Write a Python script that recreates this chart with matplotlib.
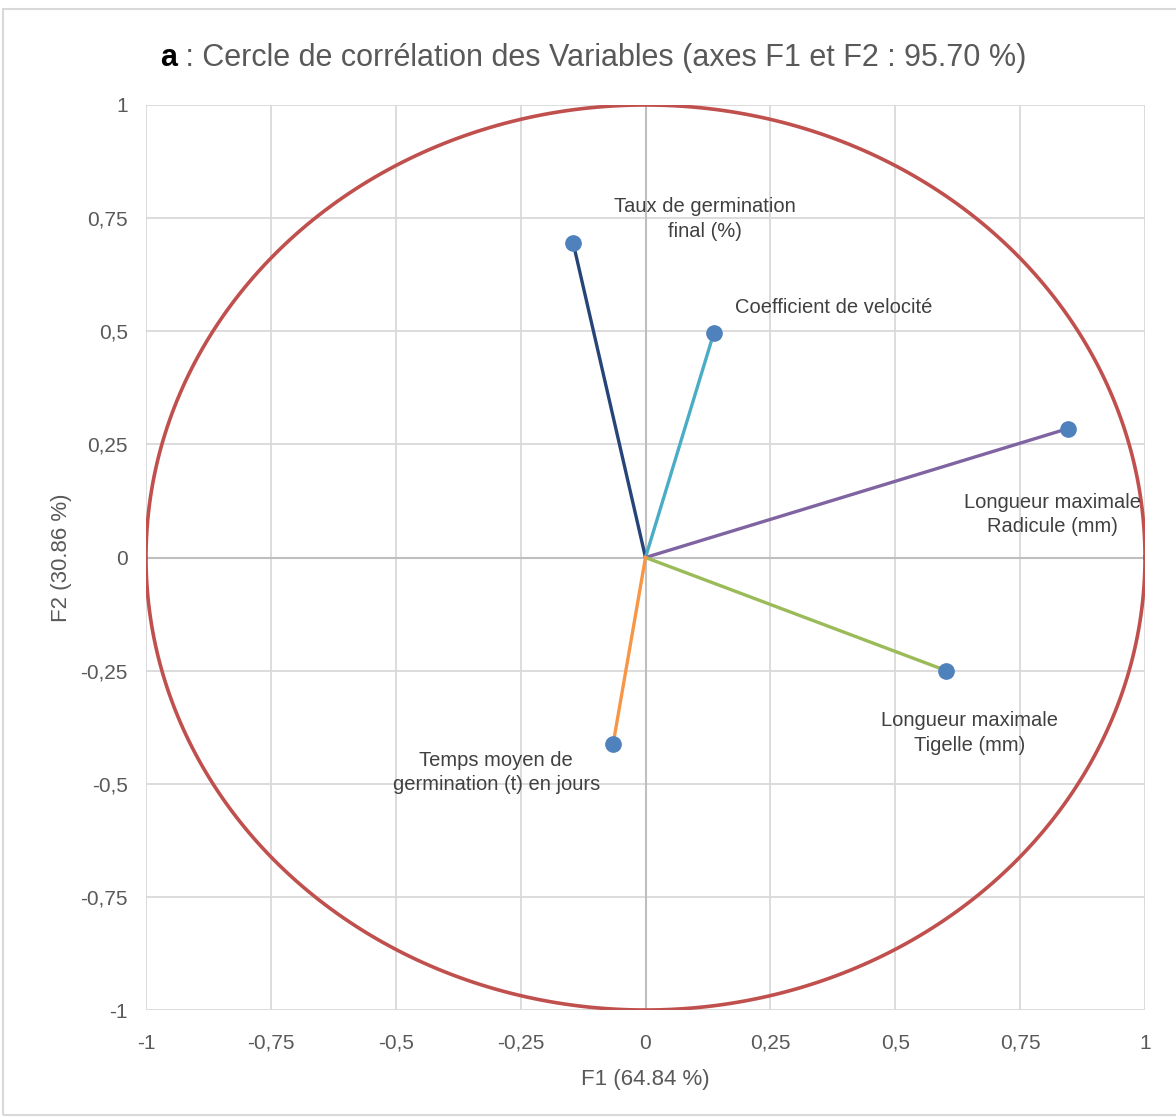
import numpy as np
import matplotlib.pyplot as plt
from matplotlib.patches import Rectangle

plt.rcParams['font.family'] = ['Liberation Sans Narrow', 'Liberation Sans', 'DejaVu Sans']

# coordonnees des variables (F1, F2)
variables = ["Taux de germination\nfinal (%)",
             "Coefficient de velocité",
             "Longueur maximale\nRadicule (mm)",
             "Longueur maximale\nTigelle (mm)",
             "Temps moyen de\ngermination (t) en jours"]
f1 = [-0.145, 0.137, 0.846, 0.602, -0.065]
f2 = [0.696, 0.497, 0.285, -0.250, -0.413]
couleurs = ['#264478', '#4BACC6', '#8064A2', '#9BBB59', '#F79646']
decalages = [(95, 17), (86, 18), (-11, -62), (17, -45), (-84, -20)]

ticks = [-1, -0.75, -0.5, -0.25, 0, 0.25, 0.5, 0.75, 1]
tick_labels = ['-1', '-0,75', '-0,5', '-0,25', '0', '0,25', '0,5', '0,75', '1']

gris = '#595959'

fig = plt.figure(figsize=(11.76, 11.17), dpi=100)
ax = fig.add_axes([146/1176, 1-1010/1117, 999/1176, 905/1117])

# cadre
fig.patches.append(Rectangle((3/1176, 0.002), 1.5, 1-9/1117-0.002, transform=fig.transFigure,
                             fill=False, edgecolor='#D9D9D9', lw=1.5))

ax.set_xlim(-1, 1)
ax.set_ylim(-1, 1)
ax.set_xticks(ticks)
ax.set_yticks(ticks)
ax.set_xticklabels(tick_labels)
ax.set_yticklabels(tick_labels)
ax.tick_params(length=0, labelsize=15, colors=gris)
ax.tick_params(axis='x', pad=17)
ax.tick_params(axis='y', pad=13)
ax.grid(color='#D9D9D9', lw=1.3)
ax.set_axisbelow(True)
for s in ax.spines.values():
    s.set_visible(False)
ax.axhline(0, color='#BFBFBF', lw=1.5, zorder=1)
ax.axvline(0, color='#BFBFBF', lw=1.5, zorder=1)

# cercle
theta = np.linspace(0, 2*np.pi, 400)
ax.plot(np.cos(theta), np.sin(theta), color='#C0504D', lw=2.6, zorder=2)

# vecteurs
for i in range(len(f1)):
    ax.plot([0, f1[i]], [0, f2[i]], color=couleurs[i], lw=2.4, zorder=3)
    ax.plot(f1[i], f2[i], 'o', color='#4F81BD', markersize=11, zorder=4)
    ax.annotate(variables[i], (f1[i], f2[i]), xytext=decalages[i], textcoords='offset points',
                ha='center', va='center', fontsize=14.5, color='#404040', linespacing=1.35)

ax.set_xlabel("F1 (64.84 %)", fontsize=16, color=gris, labelpad=12)
ax.set_ylabel("F2 (30.86 %)", fontsize=16, color=gris, labelpad=6)

# titre
t1 = fig.text(160/1176, 1-66/1117, "a", fontsize=22, fontweight='bold', color='black', va='baseline')
ax.annotate(" : Cercle de corrélation des Variables (axes F1 et F2 : 95.70 %)", xy=(1, 0),
            xycoords=t1, va='bottom', ha='left', fontsize=22, color=gris)

plt.savefig("out.png")
